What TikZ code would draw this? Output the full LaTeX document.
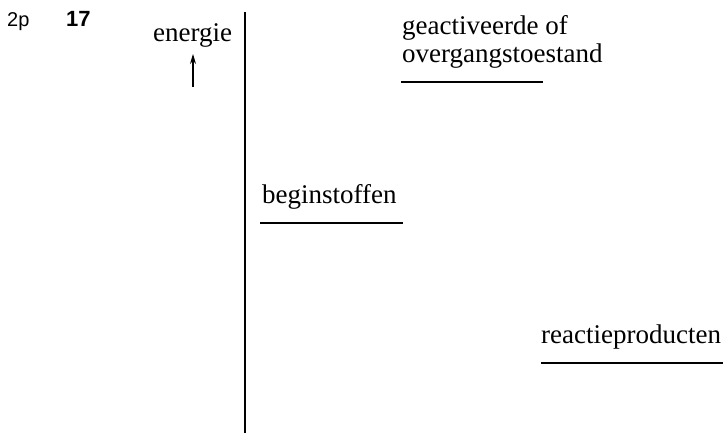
\documentclass[tikz,border=0pt]{standalone}
\usepackage{fontspec}
\setmainfont{Liberation Serif}
\newfontfamily\headfont{Liberation Sans}
\usetikzlibrary{arrows.meta}
\begin{document}
\begin{tikzpicture}[
    x=1pt, y=-1pt,
    headlabel/.style={
        anchor=base west, inner sep=0pt, font=\headfont\fontsize{20}{22}\selectfont
    },
    levellabel/.style={
        anchor=base west, inner sep=0pt, font=\fontsize{27}{29}\selectfont
    },
    levelline/.style={
        line width=2.8pt
    },
    axisstyle/.style={
        line width=1.5pt
    },
    arrowstyle/.style={
        -{Stealth[length=10pt, width=6pt]}, line width=1.2pt
    }
]
\useasboundingbox (0,0) rectangle (724,433);

% Question header
\node[headlabel] (points) at (7,27) {2p};
\node[headlabel, font=\headfont\bfseries\fontsize{22}{24}\selectfont] (qnum) at (66,27) {17};

% Energy axis
\node[levellabel] (energie) at (153,42) {energie};
\coordinate (arrowlow)  at (193,87);
\coordinate (arrowhigh) at (193,54);
\draw[arrowstyle] (arrowlow) -- (arrowhigh);
\coordinate (axistop)    at (245,12);
\coordinate (axisbottom) at (245,433);
\draw[axisstyle] (axistop) -- (axisbottom);

% Energy levels
\node[levellabel] (act1) at (402,35) {geactiveerde of};
\node[levellabel] (act2) at (402,63) {overgangstoestand};
\coordinate (actleft)  at (401,82);
\coordinate (actright) at (543,82);
\draw[levelline] (actleft) -- (actright);

\node[levellabel] (begin) at (262,204) {beginstoffen};
\coordinate (beginleft)  at (260,223);
\coordinate (beginright) at (403,223);
\draw[levelline] (beginleft) -- (beginright);

\node[levellabel] (prod) at (541,344) {reactieproducten};
\coordinate (prodleft)  at (541,363);
\coordinate (prodright) at (723,363);
\draw[levelline] (prodleft) -- (prodright);

\end{tikzpicture}
\end{document}
